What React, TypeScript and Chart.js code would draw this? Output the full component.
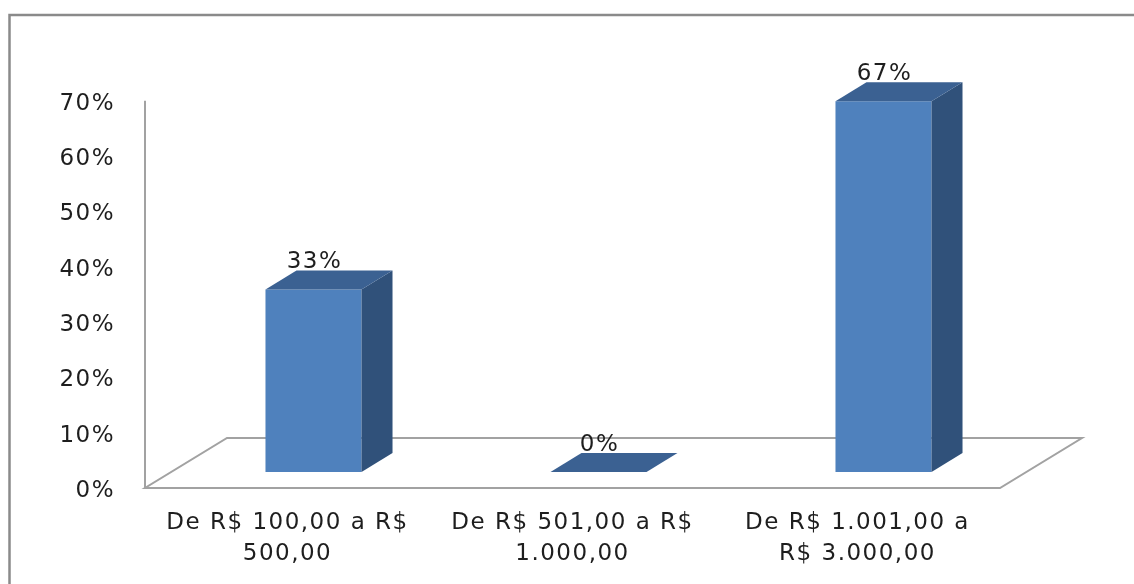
import React, { useEffect, useRef } from 'react';
import { Chart, registerables } from 'chart.js';

Chart.register(...registerables);

// Income brackets (two-line axis labels)
const categories: string[][] = [
  ['De R$ 100,00 a R$', '500,00'],
  ['De R$ 501,00 a R$', '1.000,00'],
  ['De R$ 1.001,00 a', 'R$ 3.000,00'],
];

// Share of respondents per bracket, in percent
const shares: number[] = [33, 0, 67];

// Value-axis ticks, in percent
const yTicks: number[] = [0, 10, 20, 30, 40, 50, 60, 70];

const FRONT = '#4f81bd';
const TOP = '#3b6192';
const SIDE = '#30517a';
const LINE = '#a2a2a2';
const TEXT = '#1e1e1e';
const FONT_FAMILY = '"DejaVu Sans", sans-serif';
const FONT_SIZE = 23;

// Oblique offsets used for the pseudo-3D look
const FLOOR_DEPTH = { dx: 82, dy: -50 };
const BAR_SHIFT = { dx: 26, dy: -16 };
const BAR_DEPTH = { dx: 31, dy: -19 };

const scenePlugin = {
  id: 'scene3d',
  beforeDraw(chart: any) {
    const ctx: CanvasRenderingContext2D = chart.ctx;
    (ctx as any).letterSpacing = '1.5px';
    // outer frame of the chart area (left and top edges visible)
    ctx.save();
    ctx.strokeStyle = '#8a8a8a';
    ctx.lineWidth = 2.5;
    ctx.beginPath();
    ctx.moveTo(9.5, chart.height + 5);
    ctx.lineTo(9.5, 15);
    ctx.lineTo(chart.width + 5, 15);
    ctx.stroke();
    ctx.restore();
  },
  beforeDatasetsDraw(chart: any) {
    const ctx: CanvasRenderingContext2D = chart.ctx;
    const a = chart.chartArea;
    ctx.save();
    ctx.strokeStyle = LINE;
    ctx.lineWidth = 2;
    ctx.lineJoin = 'miter';
    // value axis line
    ctx.beginPath();
    ctx.moveTo(a.left, a.top);
    ctx.lineTo(a.left, a.bottom);
    ctx.stroke();
    // floor outline
    ctx.beginPath();
    ctx.moveTo(a.left, a.bottom);
    ctx.lineTo(a.right, a.bottom);
    ctx.lineTo(a.right + FLOOR_DEPTH.dx, a.bottom + FLOOR_DEPTH.dy);
    ctx.lineTo(a.left + FLOOR_DEPTH.dx, a.bottom + FLOOR_DEPTH.dy);
    ctx.closePath();
    ctx.stroke();
    ctx.restore();
    // bars stand inside the floor, a bit behind its front edge
    ctx.save();
    ctx.translate(BAR_SHIFT.dx, BAR_SHIFT.dy);
  },
  afterDatasetsDraw(chart: any) {
    const ctx: CanvasRenderingContext2D = chart.ctx;
    const meta = chart.getDatasetMeta(0);
    const values = chart.data.datasets[0].data as number[];
    meta.data.forEach((bar: any, i: number) => {
      const { x, y, base, width } = bar.getProps(['x', 'y', 'base', 'width'], true);
      const left = x - width / 2;
      const right = x + width / 2;
      const { dx, dy } = BAR_DEPTH;
      // side face
      if (base - y > 0.5) {
        ctx.fillStyle = SIDE;
        ctx.beginPath();
        ctx.moveTo(right, y);
        ctx.lineTo(right + dx, y + dy);
        ctx.lineTo(right + dx, base + dy);
        ctx.lineTo(right, base);
        ctx.closePath();
        ctx.fill();
      }
      // top face
      ctx.fillStyle = TOP;
      ctx.beginPath();
      ctx.moveTo(left, y);
      ctx.lineTo(right, y);
      ctx.lineTo(right + dx, y + dy);
      ctx.lineTo(left + dx, y + dy);
      ctx.closePath();
      ctx.fill();
      // value label
      ctx.save();
      ctx.font = `${FONT_SIZE}px ${FONT_FAMILY}`;
      ctx.fillStyle = TEXT;
      ctx.textAlign = 'center';
      ctx.textBaseline = 'middle';
      ctx.fillText(`${values[i]}%`, x + 1, y + dy - 8);
      ctx.restore();
    });
    ctx.restore();
  },
};

export default function App() {
  const canvasRef = useRef<HTMLCanvasElement | null>(null);

  useEffect(() => {
    if (!canvasRef.current) return;
    const chart = new Chart(canvasRef.current, {
      type: 'bar',
      data: {
        labels: categories,
        datasets: [
          {
            data: shares,
            backgroundColor: FRONT,
            borderWidth: 0,
            barPercentage: 0.337,
            categoryPercentage: 1,
            clip: false as any,
          },
        ],
      },
      options: {
        animation: false,
        responsive: true,
        maintainAspectRatio: false,
        layout: { padding: { left: 10, top: 100.7, right: 134, bottom: 0 } },
        plugins: {
          legend: { display: false },
          tooltip: { enabled: false },
        },
        scales: {
          x: {
            grid: { display: false, drawTicks: false },
            border: { display: false },
            ticks: {
              color: TEXT,
              padding: 19.5,
              maxRotation: 0,
              autoSkip: false,
              font: { family: FONT_FAMILY, size: FONT_SIZE, lineHeight: 1.35 },
            },
            afterFit: (s: any) => {
              s.height = 96;
            },
          },
          y: {
            min: 0,
            max: 70,
            grid: { display: false, drawTicks: false },
            border: { display: false },
            ticks: {
              color: TEXT,
              padding: 30,
              labelOffset: 3,
              font: { family: FONT_FAMILY, size: FONT_SIZE },
              callback: (v: any) => `${v}%`,
            },
            afterBuildTicks: (s: any) => {
              s.ticks = yTicks.map((v) => ({ value: v }));
            },
            afterFit: (s: any) => {
              s.width = 135;
            },
          },
        },
      },
      plugins: [scenePlugin],
    });
    return () => chart.destroy();
  }, []);

  return (
    <div style={{ position: 'fixed', left: 0, top: 0, width: 1134, height: 584, background: '#fff' }}>
      <canvas ref={canvasRef} />
    </div>
  );
}
